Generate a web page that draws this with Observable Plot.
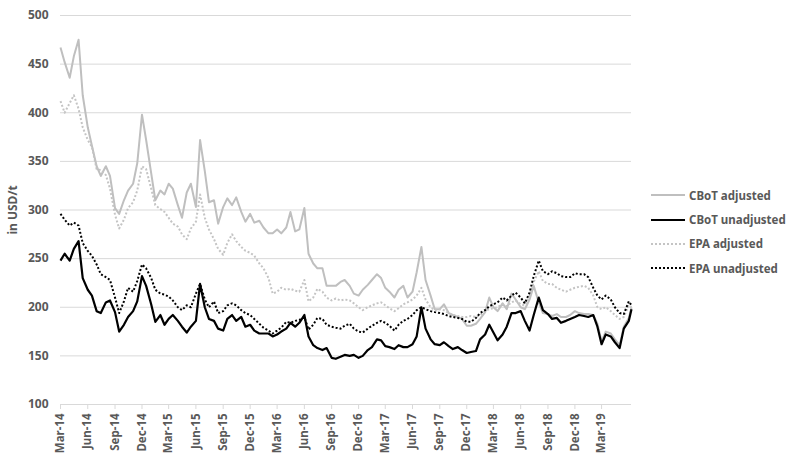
<!DOCTYPE html>
<html>
<head>
<meta charset="utf-8">
<script src="https://cdn.jsdelivr.net/npm/d3@7"></script>
<script src="https://cdn.jsdelivr.net/npm/@observablehq/plot@0.6"></script>
<style>
  body { margin: 0; background: #fff; }
  #wrap { position: relative; width: 788px; height: 453px; font-family: "Noto Sans", sans-serif; }
  #legend { position: absolute; left: 651px; top: 183px; }
  .row { display: flex; align-items: center; height: 24.4px; font-weight: 700; font-size: 11.5px; color: #595959; white-space: nowrap; }
  .row svg { margin-right: 3px; }
  svg text { font-weight: 700; }
</style>
</head>
<body>
<div id="wrap"><div id="legend"></div></div>
<script>
// Series names
const seriesNames = ["CBoT adjusted", "CBoT unadjusted", "EPA adjusted", "EPA unadjusted"];

// Values in USD/t, sampled twice a month (1st and 15th) from Mar 2014 to 1 Jun 2019, plus 10 Jun 2019
const cbotAdjusted = [
  467, 452, 436, 458, 475, 418, 385, 366, 345, 335,
  345, 335, 302, 296, 310, 320, 327, 348, 398, 372,
  338, 310, 320, 316, 327, 322, 305, 292, 318, 327,
  303, 372, 340, 308, 310, 286, 303, 312, 305, 313,
  298, 288, 296, 287, 289, 282, 276, 276, 280, 276,
  282, 298, 278, 280, 302, 255, 245, 240, 240, 222,
  222, 222, 226, 228, 222, 214, 212, 218, 223, 228,
  234, 230, 220, 216, 210, 218, 222, 210, 216, 236,
  262, 228, 212, 198, 198, 203, 194, 192, 190, 188,
  181, 181, 183, 188, 195, 210, 200, 196, 204, 198,
  214, 208, 200, 198, 208, 222, 205, 194, 193, 191,
  193, 190, 190, 192, 196, 194, 193, 193, 192, 183,
  165, 175, 173, 167, 161, 180, 189, 200
];
const cbotUnadjusted = [
  248, 255, 248, 260, 268, 230, 218, 212, 196, 194,
  205, 207, 195, 175, 182, 190, 196, 206, 232, 222,
  203, 185, 192, 182, 188, 192, 186, 180, 174, 180,
  186, 224, 200, 188, 186, 178, 176, 188, 192, 186,
  190, 180, 182, 176, 173, 173, 173, 170, 172, 175,
  178, 184, 180, 184, 192, 170, 161, 158, 156, 158,
  148, 147, 149, 151, 150, 151, 148, 150, 156, 159,
  167, 166, 160, 159, 157, 161, 159, 159, 162, 170,
  200, 178, 167, 162, 161, 164, 160, 157, 159, 156,
  153, 154, 155, 167, 172, 182, 174, 166, 172, 180,
  194, 194, 196, 186, 176, 192, 210, 197, 193, 188,
  189, 184, 186, 188, 190, 192, 191, 190, 192, 180,
  162, 172, 170, 164, 158, 178, 186, 198
];
const epaAdjusted = [
  412, 400, 410, 418, 404, 385, 372, 365, 342, 341,
  336, 322, 295, 281, 290, 302, 308, 320, 345, 342,
  322, 305, 301, 298, 292, 286, 283, 275, 270, 281,
  288, 316, 292, 280, 270, 260, 254, 266, 275, 268,
  262, 258, 256, 253, 245, 240, 230, 214, 216, 220,
  218, 219, 217, 216, 228, 206, 210, 219, 216, 210,
  207, 209, 207, 208, 207, 204, 200, 197, 200, 202,
  204, 205, 202, 199, 196, 199, 203, 205, 208, 212,
  220, 208, 200, 197, 198, 197, 194, 192, 191, 190,
  190, 191, 190, 192, 196, 198, 199, 200, 203, 201,
  205, 207, 203, 202, 212, 226, 237, 227, 224, 224,
  220, 218, 216, 218, 220, 221, 222, 220, 212, 200,
  198, 200, 196, 192, 188, 190, 202, 200
];
const epaUnadjusted = [
  296, 290, 284, 287, 284, 266, 258, 253, 244, 234,
  231, 228, 210, 194, 206, 220, 216, 227, 244, 240,
  230, 218, 214, 213, 211, 207, 200, 197, 202, 200,
  214, 224, 208, 200, 206, 194, 196, 202, 204, 202,
  197, 194, 192, 188, 183, 179, 176, 173, 176, 179,
  185, 184, 186, 187, 190, 177, 182, 189, 188, 182,
  180, 179, 178, 181, 183, 178, 175, 174, 178, 181,
  184, 186, 184, 181, 176, 182, 186, 188, 192, 197,
  200, 198, 196, 195, 194, 193, 191, 190, 189, 188,
  185, 185, 189, 194, 197, 201, 203, 205, 210, 207,
  212, 215, 210, 204, 215, 232, 248, 237, 234, 237,
  235, 232, 231, 231, 235, 234, 234, 231, 220, 212,
  208, 212, 208, 200, 194, 193, 206, 202
];

// Y tick labels
const yTicks = [100, 150, 200, 250, 300, 350, 400, 450, 500];

// Sample dates: 1st and 15th of each month, Mar 2014 .. 1 Jun 2019, then 10 Jun 2019
const dates = [];
for (let m = new Date(Date.UTC(2014, 2, 1)); m < new Date(Date.UTC(2019, 5, 2)); m = d3.utcMonth.offset(m, 1)) {
  dates.push(new Date(m));
  if (m < new Date(Date.UTC(2019, 5, 1))) dates.push(new Date(Date.UTC(m.getUTCFullYear(), m.getUTCMonth(), 15)));
}
dates.push(new Date(Date.UTC(2019, 5, 10)));

// X tick labels: every quarter from Mar-14 to Mar-19
const xTicks = d3.utcMonth.range(new Date(Date.UTC(2014, 2, 1)), new Date(Date.UTC(2019, 3, 1)), 3);

const styles = {
  "CBoT adjusted":   {stroke: "#bfbfbf", strokeWidth: 2, dash: null},
  "CBoT unadjusted": {stroke: "#000000", strokeWidth: 2.2, dash: null},
  "EPA adjusted":    {stroke: "#c4c4c4", strokeWidth: 2, dash: "2,2"},
  "EPA unadjusted":  {stroke: "#000000", strokeWidth: 2, dash: "2,2"}
};
const seriesValues = [cbotAdjusted, cbotUnadjusted, epaAdjusted, epaUnadjusted];
const tables = seriesNames.map((name, k) => seriesValues[k].map((v, i) => ({date: dates[i], value: v, series: name})));

const lineMarks = seriesNames.map((name, k) => Plot.line(tables[k], {
  x: "date", y: "value",
  stroke: styles[name].stroke,
  strokeWidth: styles[name].strokeWidth,
  strokeDasharray: styles[name].dash || undefined,
  strokeLinecap: "butt",
  strokeLinejoin: "round",
  curve: "linear"
}));

const chart = Plot.plot({
  width: 788,
  height: 453,
  marginLeft: 60,
  marginRight: 157,
  marginTop: 15,
  marginBottom: 49,
  style: {fontFamily: "'Noto Sans', sans-serif", fontSize: "12px", fontWeight: 700, color: "#595959", background: "transparent"},
  x: {type: "utc", domain: [new Date(Date.UTC(2014, 2, 1)), new Date(Date.UTC(2019, 5, 10))]},
  y: {domain: [100, 500]},
  marks: [
    Plot.gridY(yTicks, {stroke: "#d9d9d9", strokeOpacity: 1, strokeWidth: 1}),
    Plot.axisY(yTicks, {tickSize: 0, tickPadding: 12, label: "in USD/t", labelAnchor: "center", labelOffset: 52, labelArrow: false, fontSize: 12}),
    Plot.axisX(xTicks, {tickSize: 5, tickPadding: 4, tickRotate: -90, tickFormat: d3.utcFormat("%b-%y"), stroke: "#d9d9d9", strokeOpacity: 1, label: null, fontSize: 11.5}),
    ...lineMarks
  ]
});
document.getElementById("wrap").prepend(chart);

// Legend on the right
const legend = d3.select("#legend");
seriesNames.forEach(name => {
  const s = styles[name];
  const row = legend.append("div").attr("class", "row");
  const svg = row.append("svg").attr("width", 35).attr("height", 6);
  svg.append("line").attr("x1", 0).attr("x2", 34).attr("y1", 3).attr("y2", 3)
    .attr("stroke", s.stroke).attr("stroke-width", s.strokeWidth)
    .attr("stroke-dasharray", s.dash);
  row.append("span").text(name);
});
</script>
</body>
</html>
